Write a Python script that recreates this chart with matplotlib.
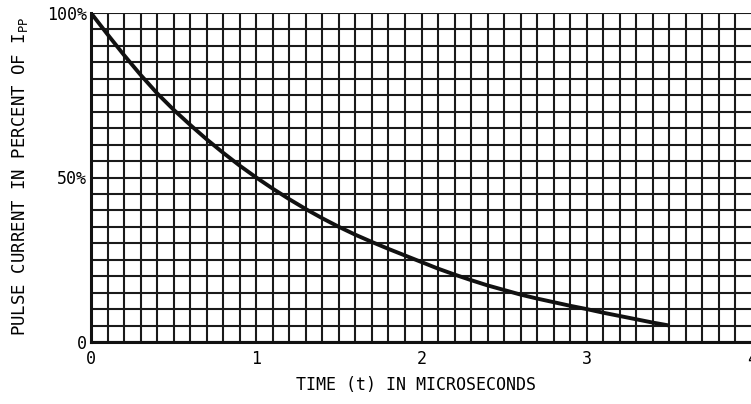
import numpy as np
import matplotlib
matplotlib.use("Agg")
import matplotlib.pyplot as plt

plt.rcParams['font.family'] = ['DejaVu Sans Mono']
plt.rcParams['mathtext.default'] = 'regular'

# valores (tempo em microssegundos, corrente em % de Ipp)
tempo = [0.0, 0.1, 0.2, 0.3, 0.4, 0.5, 0.6, 0.7, 0.8, 0.9, 1.0,
         1.1, 1.2, 1.3, 1.4, 1.5, 1.6, 1.7, 1.8, 1.9, 2.0,
         2.1, 2.2, 2.3, 2.4, 2.5, 2.6, 2.7, 2.8, 2.9, 3.0,
         3.1, 3.2, 3.3, 3.4, 3.5]
corrente = [100.0, 93.5, 87.2, 81.2, 75.6, 70.6, 66.0, 61.6, 57.5, 53.6, 50.0,
            46.6, 43.4, 40.4, 37.6, 35.0, 32.6, 30.4, 28.3, 26.3, 24.3,
            22.3, 20.5, 18.8, 17.2, 15.8, 14.4, 13.2, 12.1, 11.0, 10.0,
            8.9, 7.9, 6.9, 5.9, 5.0]

xticks = [0, 1, 2, 3, 4]
xtick_labels = ['0', '1', '2', '3', '4']
yticks = [0, 50, 100]
ytick_labels = ['0', '50%', '100%']

fig = plt.figure(figsize=(7.51, 4.04), dpi=100)
ax = fig.add_axes([91 / 751, 62 / 404, 661 / 751, 329 / 404])

# grade
for xv in np.arange(0, 4.01, 0.1):
    ax.axvline(xv, color='#1a1a1a', lw=1.5, zorder=1)
for yv in np.arange(0, 100.1, 5):
    ax.axhline(yv, color='#1a1a1a', lw=1.5, zorder=1)

ax.plot(tempo, corrente, color='#111111', lw=2.8, zorder=3,
        solid_capstyle='butt', solid_joinstyle='round')

ax.set_xlim(0, 4)
ax.set_ylim(0, 100)
ax.set_xticks(xticks)
ax.set_xticklabels(xtick_labels, fontsize=12)
ax.set_yticks(yticks)
ax.set_yticklabels(ytick_labels, fontsize=12)
ax.tick_params(axis='x', length=0, pad=6)
ax.tick_params(axis='y', length=0, pad=3)

for s in ['top', 'right']:
    ax.spines[s].set_visible(False)
for s in ['left', 'bottom']:
    ax.spines[s].set_linewidth(2.2)
    ax.spines[s].set_color('#111111')

fig.text(416 / 751, (404 - 385) / 404, 'TIME (t) IN MICROSECONDS',
         fontsize=12, ha='center', va='center')
fig.text(20 / 751, (404 - 176) / 404, 'PULSE CURRENT IN PERCENT OF $I_{PP}$',
         fontsize=12.5, ha='center', va='center', rotation=90)

fig.savefig('out.png', dpi=100)
